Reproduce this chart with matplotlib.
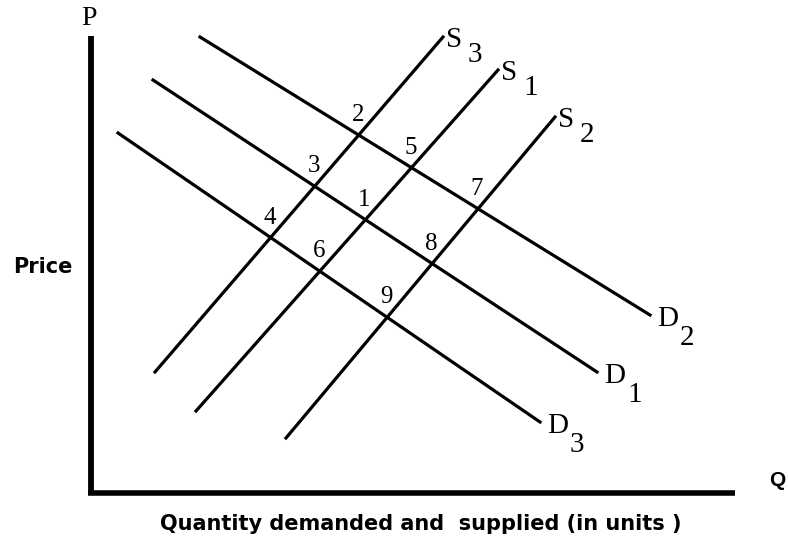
import numpy as np
import matplotlib.pyplot as plt

# curve endpoints (quantity, price) in chart units, origin at axis corner
demand_names = ["D2", "D1", "D3"]
demand_start = [(109, 456), (62, 413), (27, 360)]
demand_end = [(559, 178), (506, 121), (449, 71)]

supply_names = ["S3", "S1", "S2"]
supply_start = [(64, 121), (105, 82), (195, 55)]
supply_end = [(352, 456), (407, 423), (464, 376)]

# equilibrium numbers: (label, demand curve, supply curve)
points = [("1", "D1", "S1"), ("2", "D2", "S3"), ("3", "D1", "S3"),
          ("4", "D3", "S3"), ("5", "D2", "S1"), ("6", "D3", "S1"),
          ("7", "D2", "S2"), ("8", "D1", "S2"), ("9", "D3", "S2")]

lines = {}
for n, a, b in zip(demand_names, demand_start, demand_end):
    lines[n] = (a, b)
for n, a, b in zip(supply_names, supply_start, supply_end):
    lines[n] = (a, b)


def intersect(l1, l2):
    (x1, y1), (x2, y2) = l1
    (x3, y3), (x4, y4) = l2
    m1 = (y2 - y1) / (x2 - x1)
    m2 = (y4 - y3) / (x4 - x3)
    x = (y3 - y1 + m1 * x1 - m2 * x3) / (m1 - m2)
    return x, y1 + m1 * (x - x1)


fig = plt.figure(figsize=(7.88, 5.42), dpi=100)
ax = fig.add_axes([0, 0, 1, 1])
ax.set_xlim(-91, 697)
ax.set_ylim(-49, 493)
ax.axis("off")

serif = "Liberation Serif"

# axes
ax.plot([0, 0], [-2, 457], color="black", lw=4.2, solid_capstyle="butt")
ax.plot([-3, 644], [0, 0], color="black", lw=4, solid_capstyle="butt")
ax.text(-2, 462, "P", family=serif, fontsize=20, ha="center", va="bottom")
ax.text(686, 12, "Q", family="Liberation Sans", fontweight="bold", fontsize=15,
        ha="center", va="center")
ax.text(-48, 226, "Price", family="DejaVu Sans", fontweight="bold", fontsize=15,
        ha="center", va="center")
ax.text(330, -31, "Quantity demanded and  supplied (in units )", family="DejaVu Sans",
        fontweight="bold", fontsize=15, ha="center", va="center")

for n, (a, b) in lines.items():
    ax.plot([a[0], b[0]], [a[1], b[1]], color="black", lw=2.3)

# curve labels
for n in demand_names:
    (_, _), (x, y) = lines[n]
    ax.text(x + 7, y - 4, n[0], family=serif, fontsize=21, ha="left", va="center")
    ax.text(x + 30, y - 23, n[1], family=serif, fontsize=21, ha="left", va="center")
for n in supply_names:
    (_, _), (x, y) = lines[n]
    ax.text(x + 3, y - 3, n[0], family=serif, fontsize=21, ha="left", va="center")
    ax.text(x + 25, y - 18, n[1], family=serif, fontsize=21, ha="left", va="center")

for lab, d, s in points:
    x, y = intersect(lines[d], lines[s])
    ax.text(x - 1, y + 20, lab, family=serif, fontsize=18, ha="center", va="center")

fig.savefig("out.png", dpi=100)
